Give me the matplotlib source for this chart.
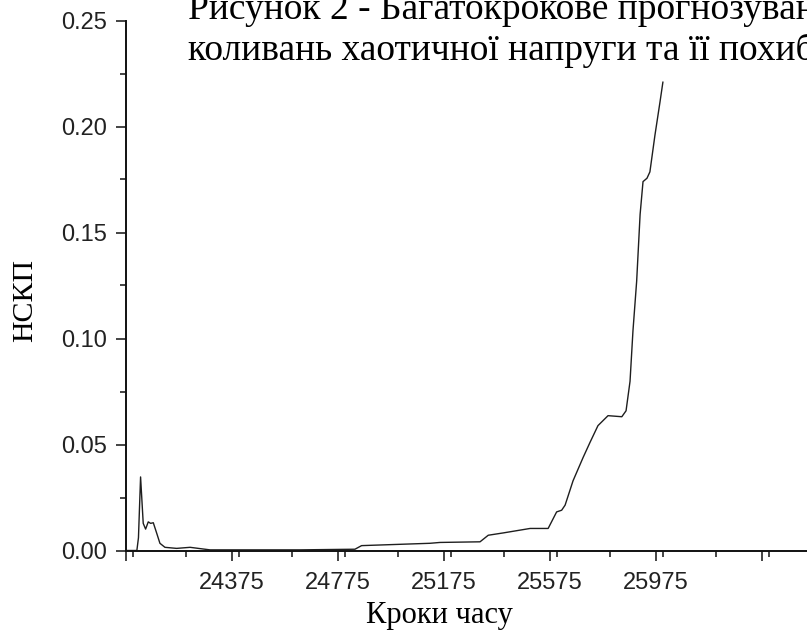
"""
Plot of the NSKP error curve for multi-step forecasting of chaotic voltage.
"""
import matplotlib
matplotlib.use('Agg')
import matplotlib.pyplot as plt
from matplotlib.ticker import FixedLocator, MultipleLocator

# data
steps = [23975, 24016, 24022, 24030, 24040, 24049, 24059, 24068, 24078,
         24091, 24103, 24122, 24166, 24217, 24254, 24292, 24632, 24839,
         24864, 25122, 25160, 25311, 25342, 25399, 25500, 25568, 25600,
         25619, 25632, 25662, 25700, 25726, 25756, 25794, 25846, 25862,
         25877, 25888, 25902, 25915, 25926, 25941, 25952, 25971, 25990,
         26001]
nskp = [0, 0, 0.006, 0.0347, 0.0128, 0.0101, 0.0135, 0.0128, 0.0131,
        0.0081, 0.0034, 0.0015, 0.0010, 0.0015, 0.0009, 0.0003, 0.0003,
        0.0006, 0.0023, 0.0034, 0.0038, 0.0041, 0.0072, 0.0083, 0.0104,
        0.0104, 0.0182, 0.0190, 0.0214, 0.0329, 0.0439, 0.0510, 0.0589,
        0.0636, 0.0631, 0.0659, 0.0798, 0.1035, 0.1270, 0.1585, 0.1740,
        0.1756, 0.1786, 0.1959, 0.2115, 0.2209]

x_major = [23975, 24375, 24775, 25175, 25575, 25975, 26375]
x_labels = ['', '24375', '24775', '25175', '25575', '25975', '']
y_major = [0.0, 0.05, 0.10, 0.15, 0.20, 0.25]
y_labels = ['0.00', '0.05', '0.10', '0.15', '0.20', '0.25']

title_lines = ['Рисунок 2 - Багатокрокове прогнозування',
               'коливань хаотичної напруги та її похибки']

serif = 'Liberation Serif'
sans = 'Liberation Sans'
text_color = '#222222'

fig = plt.figure(figsize=(8.07, 6.30), dpi=100)
# the graph is cropped on the right, so the axes run past the figure edge
ax = fig.add_axes([126 / 807, 79.5 / 630, 689 / 807, 530 / 630])

ax.plot(steps, nskp, color='#1e1e1e', linewidth=1.0)

ax.set_xlim(23975, 26575)
ax.set_ylim(0, 0.25)

ax.xaxis.set_major_locator(FixedLocator(x_major))
ax.set_xticklabels(x_labels)
ax.xaxis.set_minor_locator(MultipleLocator(200))
ax.yaxis.set_major_locator(FixedLocator(y_major))
ax.set_yticklabels(y_labels)
ax.yaxis.set_minor_locator(MultipleLocator(0.025))

for side in ['top', 'right']:
    ax.spines[side].set_visible(False)
for side in ['left', 'bottom']:
    ax.spines[side].set_linewidth(1.4)
    ax.spines[side].set_color('#111111')

ax.tick_params(which='major', direction='out', length=7.5, width=1.1,
               color='#111111', labelsize=17, labelcolor=text_color)
ax.tick_params(which='minor', direction='out', length=4, width=1.1,
               color='#111111')
ax.tick_params(axis='x', which='major', pad=8)
ax.tick_params(axis='y', which='major', pad=6)
for lab in ax.get_xticklabels() + ax.get_yticklabels():
    lab.set_family(sans)

# axis titles
fig.text(25 / 807, 1 - 300 / 630, 'НСКП', rotation=90, family=serif,
         fontsize=21.5, color='black', ha='center', va='center')
fig.text(439 / 807, 1 - 623 / 630, 'Кроки часу', family=serif,
         fontsize=22, color='black', ha='center', va='baseline')

# caption overlapping the top of the graph (cropped in the source picture)
fig.text(188 / 807, 1 - 19 / 630, title_lines[0], family=serif,
         fontsize=27, color='black', ha='left', va='baseline')
fig.text(188 / 807, 1 - 60 / 630, title_lines[1], family=serif,
         fontsize=27, color='black', ha='left', va='baseline')

plt.savefig('out.png', dpi=100)
plt.close('all')
